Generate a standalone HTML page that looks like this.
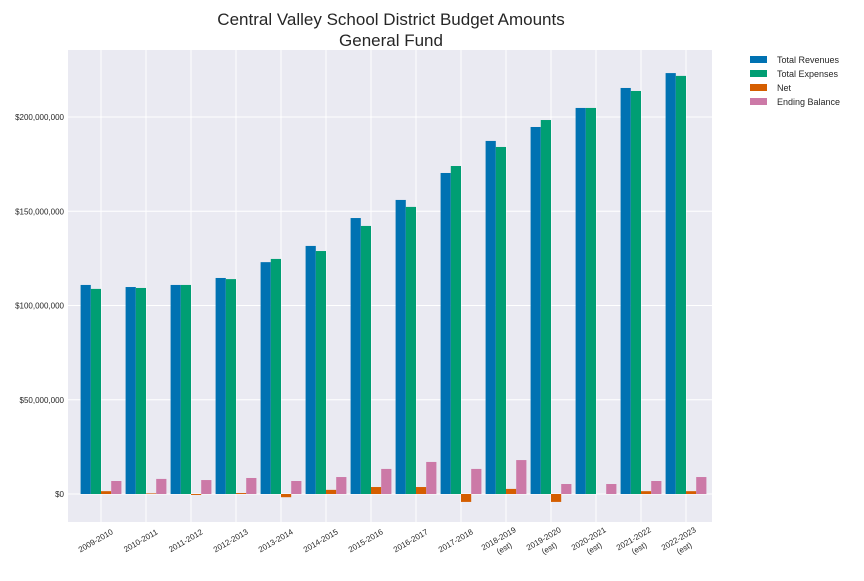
<!DOCTYPE html>
<html><head><meta charset="utf-8"><style>
body{margin:0;background:#fff;font-family:"Liberation Sans",Arial,sans-serif}
</style></head><body>
<svg id="chart" width="864" height="576" xmlns="http://www.w3.org/2000/svg" font-family="Liberation Sans, Arial, sans-serif">
<text x="391" y="25" text-anchor="middle" font-size="17" fill="#262626">Central Valley School District Budget Amounts</text>
<text x="391" y="46" text-anchor="middle" font-size="17" fill="#262626">General Fund</text>
<rect x="68" y="50" width="644" height="472" fill="#EAEAF2"/>
<g id="grid"></g><g id="bars"></g><g id="yt"></g><g id="xt"></g>
<g font-size="9" fill="#262626">
<rect x="750" y="56" width="17" height="7" fill="#0072B2"/><text x="777" y="63">Total Revenues</text>
<rect x="750" y="70" width="17" height="7" fill="#009E73"/><text x="777" y="77">Total Expenses</text>
<rect x="750" y="84" width="17" height="7" fill="#D55E00"/><text x="777" y="91">Net</text>
<rect x="750" y="98" width="17" height="7" fill="#CC79A7"/><text x="777" y="105">Ending Balance</text>
</g>
</svg>
<script>
const categories=["2009-2010","2010-2011","2011-2012","2012-2013","2013-2014","2014-2015","2015-2016","2016-2017","2017-2018","2018-2019|(est)","2019-2020|(est)","2020-2021|(est)","2021-2022|(est)","2022-2023|(est)"];
const revenues=[110.9,109.8,110.9,114.6,123,131.6,146.4,156,170.3,187.3,194.7,204.8,215.4,223.3];
const expenses=[108.8,109.3,110.9,114,124.7,128.9,142.2,152.3,174,184.1,198.4,204.8,213.8,221.8];
const net=[1.5,0.3,-0.5,0.5,-1.7,2.2,3.7,3.7,-4.2,2.7,-4.2,0,1.5,1.5];
const ending=[6.9,8,7.4,8.5,6.9,9,13.3,17,13.3,18,5.3,5.3,6.9,9];
const yTicks=[0,50,100,150,200];
const yTickLabels=["$0","$50,000,000","$100,000,000","$150,000,000","$200,000,000"];
const series=[revenues,expenses,net,ending];
const colors=["#0072B2","#009E73","#D55E00","#CC79A7"];
const names=["revenues","expenses","net","ending"];
const NS="http://www.w3.org/2000/svg";
const y=v=>494-v*1.885;
const x=i=>101+45*i;
const bw=10.2;
function mk(t,a,p){const e=document.createElementNS(NS,t);for(const k in a)e.setAttribute(k,a[k]);document.getElementById(p).appendChild(e);return e;}
yTicks.forEach((v,i)=>{
 const l=mk('line',{x1:68,x2:712,y1:y(v),y2:y(v),stroke:'#fff','stroke-width':1},'grid');
 
 
 const t=mk('text',{x:64,y:y(v)+3,'text-anchor':'end','font-size':8,fill:'#262626'},'yt');
 t.textContent=yTickLabels[i];
 
 
});
categories.forEach((c,i)=>{
 const l=mk('line',{x1:x(i),x2:x(i),y1:50,y2:522,stroke:'#fff','stroke-width':1},'grid');
 
 
 series.forEach((s,j)=>{
  const v=s[i];const bx=x(i)-2*bw+j*bw;
  const r=mk('rect',{x:bx,y:Math.min(y(v),y(0)),width:bw,height:Math.abs(y(v)-y(0)),fill:colors[j]},'bars');
  
  
 });
 const parts=c.split('|');
 const two=parts.length>1;
 const t=mk('text',{'font-size':8,fill:'#262626','text-anchor':'middle',transform:two?`translate(${x(i)-6},${541}) rotate(-30)`:`translate(${x(i)-4},${543}) rotate(-30)`},'xt');
 
 
 parts.forEach((p,k)=>{const ts=document.createElementNS(NS,'tspan');ts.setAttribute('x',0);ts.setAttribute('dy',k?11:0);ts.textContent=p;t.appendChild(ts);});
});
</script>
</body></html>
